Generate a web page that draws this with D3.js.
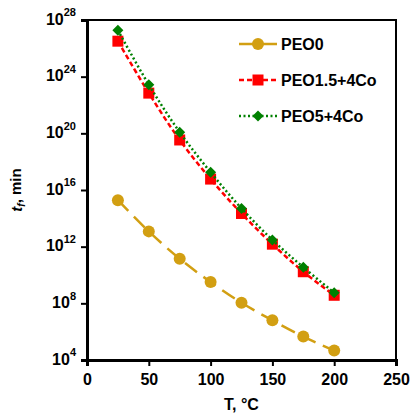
<!DOCTYPE html>
<html>
<head>
<meta charset="utf-8">
<script src="https://cdn.jsdelivr.net/npm/d3@7"></script>
<style>
  body { margin: 0; background: #fff; }
  svg { font-family: "Liberation Sans", Arial, sans-serif; font-weight: bold; }
</style>
</head>
<body>
<div id="chart"></div>
<script>
// Data (time to failure, min, vs temperature)
const temps = [25, 50, 75, 100, 125, 150, 175, 200];
const peo0 = [1.9e15, 1.2e13, 1.4e11, 3.2e9, 1.1e8, 6.3e6, 4.5e5, 4.6e4];
const peo15 = [3.2e26, 6.9e22, 3.4e19, 5.9e16, 2.2e14, 1.5e12, 1.7e10, 3.7e8];
const peo5 = [1.9e27, 2.7e23, 1.2e20, 1.8e17, 5.0e14, 3.0e12, 3.5e10, 5.6e8];
const xTicks = [0, 50, 100, 150, 200, 250];
const yExps = [4, 8, 12, 16, 20, 24, 28];
const seriesNames = ["PEO0", "PEO1.5+4Co", "PEO5+4Co"];

const width = 410;
const height = 414;
const marginTop = 20;
const marginRight = 14;
const marginBottom = 54;
const marginLeft = 87;

const x = d3.scaleLinear()
    .domain([0, 250])
    .range([marginLeft, width - marginRight]);

const y = d3.scaleLog()
    .domain([1e4, 1e28])
    .range([height - marginBottom, marginTop]);

const svg = d3.select("#chart").append("svg")
    .attr("width", width)
    .attr("height", height)
    .attr("viewBox", [0, 0, width, height]);

// frame (top and right)
svg.append("path")
    .attr("fill", "none")
    .attr("stroke", "#000")
    .attr("stroke-width", 2)
    .attr("d", `M${x(0)},${y(1e28)}H${x(250)}V${y(1e4)}`);

// x axis
svg.append("g")
    .attr("transform", `translate(0,${y(1e4)})`)
    .call(d3.axisBottom(x).tickValues(xTicks).tickSize(6).tickPadding(8))
    .call(g => g.select(".domain").attr("stroke-width", 3))
    .call(g => g.selectAll(".tick line").attr("stroke-width", 2))
    .call(g => g.selectAll(".tick text")
        .attr("font-size", 16).attr("font-weight", "bold")
        .attr("font-family", "Liberation Sans, Arial, sans-serif")
        .attr("fill", "#000"));

// y axis with power-of-ten labels
svg.append("g")
    .attr("transform", `translate(${marginLeft},0)`)
    .call(d3.axisLeft(y).tickValues(yExps.map(e => Math.pow(10, e)))
        .tickSize(6).tickPadding(5).tickFormat(() => ""))
    .call(g => g.select(".domain").attr("stroke-width", 3))
    .call(g => g.selectAll(".tick line").attr("stroke-width", 2))
    .call(g => g.selectAll(".tick text")
        .attr("font-family", "Liberation Sans, Arial, sans-serif")
        .attr("font-weight", "bold")
        .attr("fill", "#000")
        .attr("dy", "0.4em")
        .each(function(d) {
            const t = d3.select(this);
            t.append("tspan").attr("font-size", 16).text("10");
            t.append("tspan").attr("font-size", 11).attr("dy", "-0.75em")
                .text(Math.round(Math.log10(d)));
        }));

// axis titles
svg.append("text")
    .attr("transform", `translate(22,${(y(1e4) + y(1e28)) / 2}) rotate(-90)`)
    .attr("text-anchor", "middle")
    .attr("font-size", 15)
    .call(t => {
        t.append("tspan").attr("font-style", "italic").text("t");
        t.append("tspan").attr("font-style", "italic").attr("font-size", 10)
            .attr("dy", "0.3em").text("f");
        t.append("tspan").attr("dy", "-0.3em").text(", min");
    });

svg.append("text")
    .attr("x", (x(0) + x(250)) / 2)
    .attr("y", 410)
    .attr("text-anchor", "middle")
    .attr("font-size", 16)
    .text("T, °C");

// series
const series = [
    {name: seriesNames[0], values: peo0, color: "#d29f12", dash: "15,8", shape: "circle"},
    {name: seriesNames[1], values: peo15, color: "#ff0000", dash: "5,3", shape: "square"},
    {name: seriesNames[2], values: peo5, color: "#008000", dash: "2,2.5", shape: "diamond"}
];

const line = d3.line()
    .x(d => x(d[0]))
    .y(d => y(d[1]))
    .curve(d3.curveCatmullRom);

function drawMarker(g, shape, color) {
    if (shape === "circle") {
        g.append("circle").attr("r", 6).attr("fill", color);
    } else if (shape === "square") {
        g.append("rect").attr("x", -5.5).attr("y", -5.5).attr("width", 11).attr("height", 11)
            .attr("fill", color);
    } else {
        g.append("path").attr("d", "M0,-5.5L5.5,0L0,5.5L-5.5,0Z").attr("fill", color);
    }
}

series.forEach(s => {
    const pts = temps.map((t, i) => [t, s.values[i]]);
    svg.append("path")
        .datum(pts)
        .attr("fill", "none")
        .attr("stroke", s.color)
        .attr("stroke-width", 2.5)
        .attr("stroke-dasharray", s.dash)
        .attr("d", line);
    svg.append("g")
        .selectAll("g")
        .data(pts)
        .join("g")
            .attr("transform", d => `translate(${x(d[0])},${y(d[1])})`)
            .each(function() { drawMarker(d3.select(this), s.shape, s.color); });
});

// legend
const legend = svg.append("g")
    .selectAll("g")
    .data(series)
    .join("g")
        .attr("transform", (d, i) => `translate(239,${44 + i * 36})`);

legend.append("line")
    .attr("x1", 0).attr("x2", 38)
    .attr("stroke", d => d.color)
    .attr("stroke-width", 2.5)
    .attr("stroke-dasharray", d => d.shape === "circle" ? null : d.dash);

legend.append("g")
    .attr("transform", "translate(19,0)")
    .each(function(d) { drawMarker(d3.select(this), d.shape, d.color); });

legend.append("text")
    .attr("x", 42)
    .attr("dy", "0.35em")
    .attr("font-size", 16)
    .text(d => d.name);
</script>
</body>
</html>
